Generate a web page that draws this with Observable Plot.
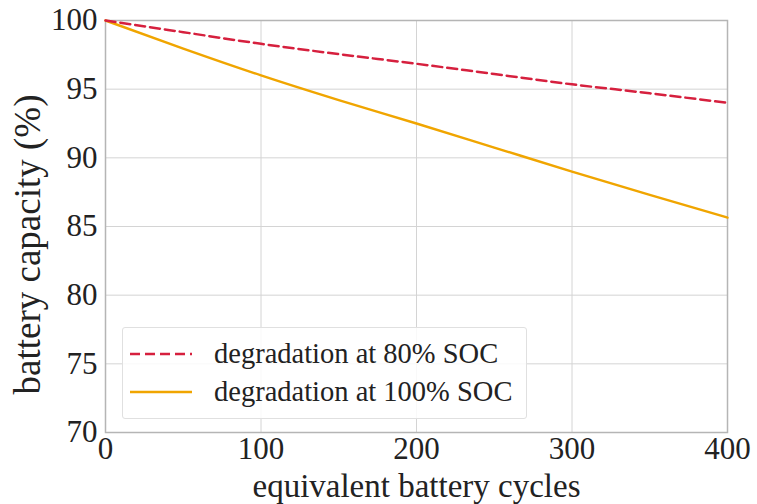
<!DOCTYPE html>
<html><head><meta charset="utf-8">
<script src="https://cdn.jsdelivr.net/npm/d3@7"></script>
<script src="https://cdn.jsdelivr.net/npm/@observablehq/plot@0.6"></script>
<style>
body{margin:0;background:#fff;}
#wrap{position:relative;width:757px;height:504px;font-family:"Liberation Serif","Times New Roman",serif;}
#legend{position:absolute;left:122px;top:327px;width:405px;height:92px;border:1px solid #e0e0e0;border-radius:3px;background:rgba(255,255,255,0.85);box-sizing:border-box;}
.row{position:absolute;left:0;height:30px;display:flex;align-items:center;font-size:28.5px;color:#222;white-space:nowrap;}
.row svg{margin-left:7px;margin-right:22px;}
</style></head>
<body><div id="wrap"></div>
<script>
const cycles = [0, 50, 100, 150, 200, 250, 300, 350, 400];
const soc80 = [100, 99.15, 98.3, 97.55, 96.85, 96.1, 95.35, 94.7, 94.0];
const soc100 = [100, 97.95, 96.0, 94.2, 92.5, 90.75, 89.0, 87.3, 85.65];
const xTicks = [0, 100, 200, 300, 400];
const yTicks = [70, 75, 80, 85, 90, 95, 100];
const seriesNames = ["degradation at 80% SOC", "degradation at 100% SOC"];
const colors = ["#d6203e", "#f0a500"];
const xTitle = "equivalent battery cycles";
const yTitle = "battery capacity (%)";

const data = [];
cycles.forEach((c, i) => {
  data.push({cycle: c, cap: soc80[i], s: seriesNames[0]});
  data.push({cycle: c, cap: soc100[i], s: seriesNames[1]});
});

const chart = Plot.plot({
  width: 757, height: 504,
  marginLeft: 105, marginRight: 30, marginTop: 20, marginBottom: 72,
  style: {fontFamily: '"Liberation Serif","Times New Roman",serif', fontSize: "31px", color: "#222", background: "#fff"},
  x: {domain: [0, 400]},
  y: {domain: [70, 100]},
  marks: [
    Plot.gridX(xTicks, {stroke: "#d4d4d4", strokeOpacity: 1, strokeWidth: 1}),
    Plot.gridY(yTicks, {stroke: "#d4d4d4", strokeOpacity: 1, strokeWidth: 1}),
    Plot.frame({stroke: "#b5b5b5", strokeWidth: 1.5}),
    Plot.line(data.filter(d => d.s === seriesNames[1]), {x: "cycle", y: "cap", stroke: colors[1], strokeWidth: 2.4, curve: "monotone-x"}),
    Plot.line(data.filter(d => d.s === seriesNames[0]), {x: "cycle", y: "cap", stroke: colors[0], strokeWidth: 2.5, strokeDasharray: "10,5", curve: "monotone-x"}),
    Plot.axisX(xTicks, {tickSize: 0, tickPadding: 4, fontSize: 31, label: null}),
    Plot.axisY(yTicks, {tickSize: 0, tickPadding: 8, fontSize: 31, label: null}),
    Plot.text([xTitle], {frameAnchor: "bottom", textAnchor: "middle", lineAnchor: "middle", dy: 54, fontSize: 33, fill: "#222"}),
    Plot.text([yTitle], {frameAnchor: "left", textAnchor: "middle", lineAnchor: "middle", dx: -77, dy: 18, rotate: -90, fontSize: 37, fill: "#222"})
  ]
});
const wrap = document.getElementById("wrap");
wrap.appendChild(chart);

const legend = document.createElement("div");
legend.id = "legend";
seriesNames.forEach((name, i) => {
  const row = document.createElement("div");
  row.className = "row";
  row.style.top = (i === 0 ? 11 : 49) + "px";
  const dash = i === 0 ? 'stroke-dasharray="10,5"' : '';
  row.innerHTML = `<svg width="62" height="10"><line x1="0" y1="5" x2="62" y2="5" stroke="${colors[i]}" stroke-width="2.5" ${dash}/></svg><span>${name}</span>`;
  legend.appendChild(row);
});
wrap.appendChild(legend);
</script></body></html>
